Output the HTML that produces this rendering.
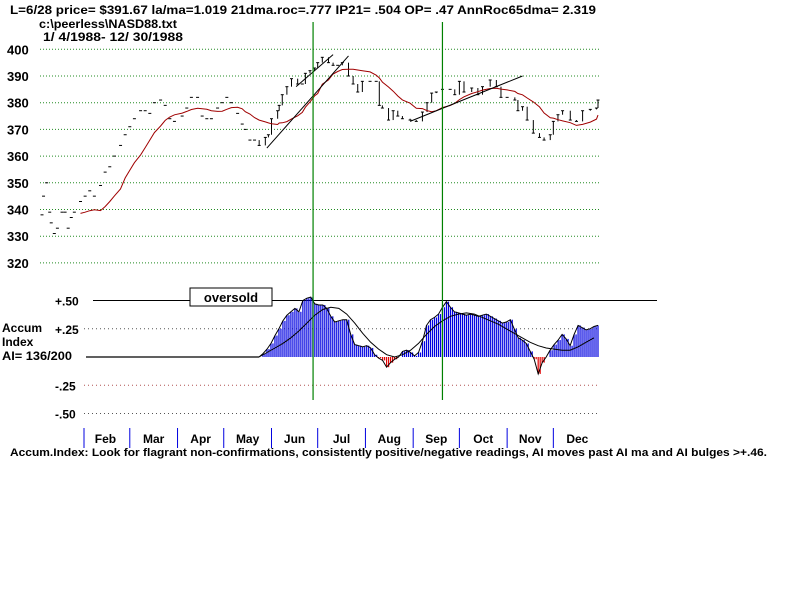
<!DOCTYPE html>
<html><head><meta charset="utf-8"><style>
html,body{margin:0;padding:0;background:#fff;}
svg{display:block;font-family:"Liberation Sans",sans-serif;font-weight:bold;}
</style></head><body>
<svg id="chart" width="800" height="600" viewBox="0 0 800 600" xmlns="http://www.w3.org/2000/svg">
<text x="10" y="14" font-size="12" textLength="586" lengthAdjust="spacingAndGlyphs">L=6/28  price= $391.67  la/ma=1.019 21dma.roc=.777 IP21= .504 OP= .47 AnnRoc65dma= 2.319</text>
<text x="39" y="28" font-size="12" textLength="138" lengthAdjust="spacingAndGlyphs">c:\peerless\NASD88.txt</text>
<text x="43" y="41" font-size="12" textLength="140" lengthAdjust="spacingAndGlyphs">1/ 4/1988- 12/ 30/1988</text>
<g id="grid"></g>
<g id="price"></g>
<g id="accum"></g>
<rect x="190" y="288" width="82" height="18" fill="#fff" stroke="#000"/>
<text x="231" y="302" font-size="13" text-anchor="middle">oversold</text>
<text x="2" y="332" font-size="12">Accum</text>
<text x="2" y="346" font-size="12">Index</text>
<text x="2" y="360" font-size="12" textLength="70" lengthAdjust="spacingAndGlyphs">AI= 136/200</text>
<text x="10" y="456" font-size="11" textLength="757" lengthAdjust="spacingAndGlyphs">Accum.Index: Look for flagrant non-confirmations, consistently positive/negative readings, AI moves past AI ma and AI bulges &gt;+.46.</text>
</svg>
<script>
const priceTicks=[400,390,380,370,360,350,340,330,320];
const days=[4,5,7,9,10,12,14,17,19,21,23,25,29,32,35,38,42,45,48,51,55,58,61,64,68,71,74,77,81,84,87,90,95,98,101,105,108,111,114,118,121,124,127,131,134,136,139,142,145,149,151,153,157,158,160,163,166,170,173,175,178,181,183,186,190,193,196,199,203,206,209,212,217,221,223,225,229,232,235,238,243,247,251,254,257,260,264,269,272,275,278,283,287,290,295,299,302,306,311,313,316,319,323,327,330,334,336,339,342,347,351,355,360,364,365];
const closes=[338,345,350,339,335,331,333,339,339,333,337,339,343,345,347,345,349,354,356,360,364,368,371,374,377,377,376,380,381,379,374,373,375,378,382,382,375,374,374,378,380,382,380,376,372,370,366,366,364,367,368,374,377,379,383,386,389,387,387,391,392,393,395,397,395,394,394,395,390,387,384,388,388,388,379,378,373.5,377,375,374,373.5,373,376.5,380,383.6,384,385,385,383,388,384,385.5,383,386,388.5,386,382,382,381,377,378.5,373.5,368.6,367,366,368,373,375.5,377,373.5,373,377,377.5,378,381];
const trendLines=[[150,363,203,397.5],[169,386,193,398],[243,373,316,390]];
const accumTicks=[0.5,0.25,-0.25,-0.5];
const accumTickLabels=["+.50","+.25","-.25","-.50"];
const accum=[0,.03,.07,.12,.19,.25,.32,.37,.40,.43,.40,.50,.52,.53,.47,.46,.46,.43,.36,.31,.32,.33,.33,.20,.11,.10,.09,.10,.08,.02,-.01,-.03,-.09,-.05,-.02,0,.05,.06,.04,.01,.04,.14,.28,.33,.35,.38,.44,.49,.44,.40,.39,.38,.37,.38,.37,.36,.37,.38,.36,.34,.32,.30,.31,.33,.25,.17,.15,.12,.05,-.02,-.15,-.05,0,.06,.11,.15,.20,.16,.10,.20,.28,.26,.24,.25,.27,.28];
const accumMa=[0,.04,.08,.12,.17,.23,.30,.37,.42,.44,.43,.38,.30,.21,.13,.07,.02,0,.02,.06,.12,.20,.27,.32,.36,.38,.39,.38,.35,.32,.29,.25,.21,.17,.13,.10,.08,.07,.06,.06,.09,.13,.17];
const months=["Feb","Mar","Apr","May","Jun","Jul","Aug","Sep","Oct","Nov","Dec"];
const monthStartDays=[32,61,92,122,153,183,214,245,275,306,336];
const signalDays=[180,264];

const NS="http://www.w3.org/2000/svg";
const X=d=>42+(d-4)*(556/361);
const Y=v=>49.3+(400-v)*2.67;
const AY=v=>357-v*113;
const AX0=259, AX1=598;
function mk(tag,attrs,parent){const e=document.createElementNS(NS,tag);for(const k in attrs)e.setAttribute(k,attrs[k]);parent.appendChild(e);return e;}
const gridG=document.getElementById('grid'),priceG=document.getElementById('price'),accG=document.getElementById('accum');

priceTicks.forEach(t=>{
  const l=mk('line',{x1:40,x2:600,y1:Y(t),y2:Y(t),stroke:'#228b22','stroke-width':1,'stroke-dasharray':'1,2'},gridG);
  
  
  const tx=mk('text',{x:7,y:Y(t)+5,'font-size':13},gridG);tx.textContent=t;
  
  
});

for(let i=0;i<closes.length;i++){
  const x=X(days[i]),y=Y(closes[i]);
  const t=mk('line',{x1:x-1.5,x2:x+1.5,y1:y,y2:y,stroke:'#000','stroke-width':1},priceG);
  
  
  if(i>0&&x>=250){
    const v=mk('line',{x1:x,x2:x,y1:Y(closes[i-1]),y2:y,stroke:'#000','stroke-width':1},priceG);
    
    
  }
}
let pts=[];
for(let i=0;i<closes.length;i++){
  if(days[i]<28)continue;
  let s=0,n=0;for(let j=0;j<=i;j++){if(days[j]>days[i]-35){s+=closes[j];n++;}}
  pts.push(X(days[i]).toFixed(1)+','+Y(s/n).toFixed(1));
}
const maLine=mk('polyline',{points:pts.join(' '),fill:'none',stroke:'#a00000','stroke-width':1},priceG);


trendLines.forEach(t=>{
  const l=mk('line',{x1:X(t[0]),y1:Y(t[1]),x2:X(t[2]),y2:Y(t[3]),stroke:'#000','stroke-width':1},priceG);
  
  
});

accumTicks.forEach((t,i)=>{
  if(t!==0.5){const l=mk('line',{x1:84,x2:600,y1:AY(t),y2:AY(t),stroke:t<0&&t>-0.3?'#b05050':'#555','stroke-width':1,'stroke-dasharray':'1,3'},accG);
  
  }
  const tx=mk('text',{x:55,y:AY(t)+5,'font-size':12},accG);tx.textContent=accumTickLabels[i];
  
  
});
const upperLine=mk('line',{x1:93,x2:657,y1:AY(0.5),y2:AY(0.5),stroke:'#000','stroke-width':1},accG);


const baseLine=mk('line',{x1:86,x2:AX0,y1:AY(0),y2:AY(0),stroke:'#000','stroke-width':1.3},accG);


const step=(AX1-AX0)/(accum.length-1);
let ap=[];
accum.forEach((v,i)=>{
  const x=AX0+i*step;
  const col=v<0?'#e00000':'#0000e0';
  const b=mk('rect',{x:x-0.6,y:Math.min(AY(v),AY(0)),width:1.2,height:Math.abs(AY(v)-AY(0)),fill:col},accG);
  
  
  if(i<accum.length-1){const b2=mk('rect',{x:x+step/2-0.6,y:Math.min(AY(v),AY(0)),width:1.2,height:Math.abs(AY(v)-AY(0)),fill:col},accG);
  
  }
  ap.push(x.toFixed(1)+','+AY(v).toFixed(1));
});
const outline=mk('polyline',{points:ap.join(' '),fill:'none',stroke:'#000','stroke-width':1},accG);


const mstep=(AX1-AX0)/(accum.length-1)*2;
const amp=accumMa.map((v,i)=>(AX0+i*mstep).toFixed(1)+','+AY(v).toFixed(1)).join(' ');
const aml=mk('polyline',{points:amp,fill:'none',stroke:'#000','stroke-width':1},accG);



signalDays.forEach(d=>{
  const l=mk('line',{x1:X(d),x2:X(d),y1:22,y2:400,stroke:'#008000','stroke-width':1.2},accG);
  
  
});
const firstTick=mk('line',{x1:84,x2:84,y1:428,y2:448,stroke:'#0000e0','stroke-width':1},accG);


months.forEach((m,i)=>{
  const x0=X(monthStartDays[i]);
  const x1=i<months.length-1?X(monthStartDays[i+1]):x0+48;
  if(i<months.length-1){const l=mk('line',{x1:x1,x2:x1,y1:428,y2:448,stroke:'#0000e0','stroke-width':1},accG);
  
  }
  const tx=mk('text',{x:(x0+x1)/2+(i===0?-2:0),y:443,'font-size':12,'text-anchor':'middle'},accG);tx.textContent=m;
  
  
});
</script>
</body></html>
